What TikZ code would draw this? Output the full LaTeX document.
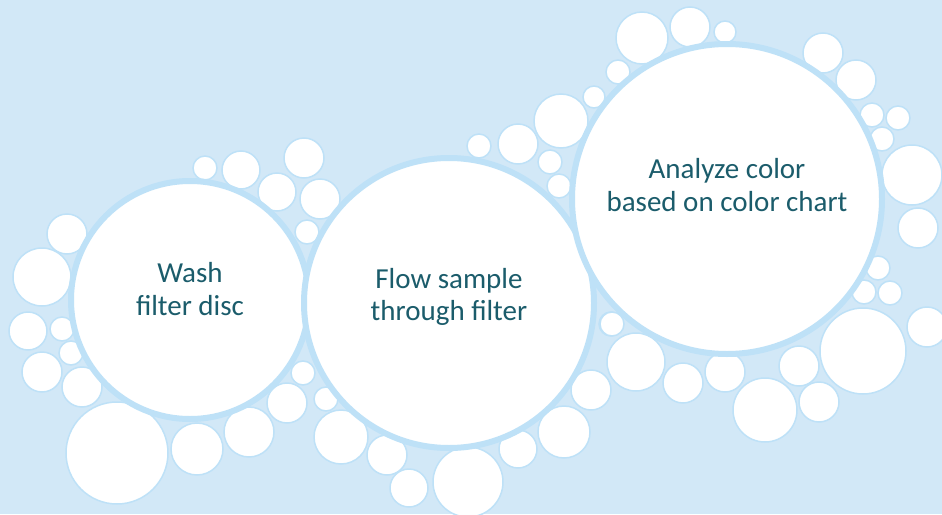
\documentclass[tikz,border=0pt]{standalone}
\usepackage{fontspec}
\setmainfont{Carlito}
\usepackage{tikz}

\definecolor{bgblue}{HTML}{D2E8F7}
\definecolor{ringblue}{HTML}{BEE1F7}
\definecolor{tealtext}{HTML}{1B5C6B}

\tikzset{
  bubble/.style={fill=white, draw=ringblue, line width=1.5pt},
  stepdisc/.style={circle, fill=white, draw=ringblue, line width=6pt, inner sep=0pt},
  steptext/.style={align=center, text=tealtext, font=\fontsize{29}{32.5}\selectfont}
}

\begin{document}
\begin{tikzpicture}[x=1pt, y=-1pt]
    % draw background
    \useasboundingbox (0,0) rectangle (942,514);
    \fill[bgblue] (0,0) rectangle (942,514);
    \clip (0,0) rectangle (942,514);

    % draw small bubbles
    \foreach \x/\y/\r in {205/168/12, 241/170/19, 277/192/19, 304/158/20, 320/199/20,
      307/232/12, 67/234/20, 42/277/29, 28/331/19, 62/329/12, 71/353/12, 42/372/20,
      82/387/20, 117/453/51, 197/449/26, 249/432/25, 287/403/20, 303/373/12,
      326/399/12, 341/437/27, 387/455/20, 409/488/19, 468/482/35, 518/449/19,
      564/432/26, 591/390/20, 611/324/12, 550/162/12, 559/186/12, 518/144/20,
      479/146/12, 561/121/27, 594/97/11, 618/72/12, 642/38/26, 690/27/20,
      725/32/11, 823/53/20, 856/80/20, 872/115/12, 898/118/12, 882/139/12,
      912/175/30, 918/228/20, 878/268/12, 864/292/12, 890/293/12, 612/324/12,
      636/362/29, 683/383/20, 725/372/20, 765/410/32, 799/366/20, 819/402/20,
      863/351/43, 927/327/20}
      \draw[bubble] (\x,\y) circle (\r);

    % draw step circles
    \node[stepdisc, minimum size=238pt] (wash) at (190,300) {};
    \node[stepdisc, minimum size=290pt] (flow) at (449,303) {};
    \node[stepdisc, minimum size=310pt] (analyze) at (727,199) {};

    % draw texts
    \node[steptext] (washtext) at ([yshift=11pt]wash.center) {Wash\\filter disc};
    \node[steptext] (flowtext) at ([yshift=6pt]flow.center) {Flow sample\\through filter};
    \node[steptext] (analyzetext) at ([yshift=14pt]analyze.center) {Analyze color\\based on color chart};
\end{tikzpicture}
\end{document}
